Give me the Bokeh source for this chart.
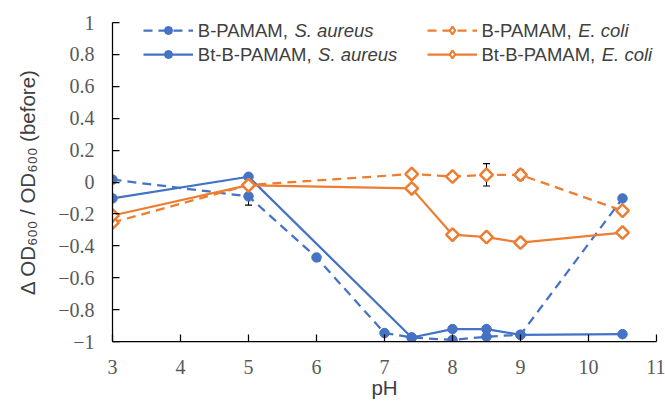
from bokeh.plotting import figure
from bokeh.models import (FixedTicker, CustomJSTickFormatter, Legend, LegendItem,
                          Label, Whisker, TeeHead, ColumnDataSource)
from bokeh.embed import file_html
from bokeh.resources import INLINE

# ---- data ----
x_b_sa = [3, 5, 6, 7, 7.4, 8, 8.5, 9, 10.5]
y_b_sa = [0.015, -0.09, -0.473, -0.947, -0.975, -0.99, -0.97, -0.958, -0.103]

x_bt_sa = [3, 5, 7.4, 8, 8.5, 9, 10.5]
y_bt_sa = [-0.103, 0.033, -0.975, -0.922, -0.922, -0.958, -0.954]

x_b_ec = [3, 5, 7.4, 8, 8.5, 9, 10.5]
y_b_ec = [-0.254, -0.019, 0.05, 0.034, 0.045, 0.045, -0.18]

x_bt_ec = [3, 5, 7.4, 8, 8.5, 9, 10.5]
y_bt_ec = [-0.21, -0.02, -0.04, -0.33, -0.345, -0.38, -0.317]

# error bars (x, centre, half-width)
err_x = [5, 5, 8, 8.5, 9]
err_y = [-0.09, 0.033, 0.034, 0.045, 0.045]
err_d = [0.055, 0.012, 0.012, 0.07, 0.03]

x_ticks = [3, 4, 5, 6, 7, 8, 9, 10, 11]
y_ticks = [-1, -0.8, -0.6, -0.4, -0.2, 0, 0.2, 0.4, 0.6, 0.8, 1]

legend_plain = [["B-PAMAM, ", "Bt-B-PAMAM, "], ["B-PAMAM, ", "Bt-B-PAMAM, "]]
legend_italic = [["S. aureus", "S. aureus"], ["E. coli", "E. coli"]]

BLUE = "#4472C4"
ORANGE = "#ED7D31"
TXT = "#404040"
TICK = "#595959"
SANS = "Liberation Sans"
SERIF = "Liberation Serif"

p = figure(width=665, height=401, x_range=(3, 11), y_range=(-1, 1),
           output_backend="svg", toolbar_location=None,
           min_border_left=112, min_border_right=9, min_border_top=22,
           min_border_bottom=60)
p.outline_line_color = None
p.xgrid.visible = False
p.ygrid.visible = False

for axes in (p.xaxis, p.yaxis):
    axes.axis_line_color = "black"
    axes.axis_line_width = 1.25
    axes.major_tick_line_color = "black"
    axes.major_tick_line_width = 1.25
    axes.major_tick_in = 7
    axes.major_tick_out = 0
    axes.minor_tick_line_color = None
    axes.major_label_text_font = SERIF
    axes.major_label_text_font_size = "20px"
    axes.major_label_text_color = TICK
    axes.major_label_standoff = 18

p.xaxis.ticker = FixedTicker(ticks=x_ticks)
p.yaxis.ticker = FixedTicker(ticks=y_ticks)
p.yaxis.formatter = CustomJSTickFormatter(code="""
const v = Math.round(tick*10)/10;
const s = (v === 0) ? "0" : String(v);
return s.replace("-", "\\u2212");
""")
p.yaxis.axis_label = "\u0394 OD\u2086\u2080\u2080 / OD\u2086\u2080\u2080 (before)"
p.yaxis.axis_label_text_font = SANS
p.yaxis.axis_label_text_font_size = "20.5px"
p.yaxis.axis_label_text_font_style = "normal"
p.yaxis.axis_label_text_color = TXT
p.yaxis.axis_label_standoff = 16

p.xaxis.axis_label = "pH"
p.xaxis.axis_label_text_font = SANS
p.xaxis.axis_label_text_font_size = "20.5px"
p.xaxis.axis_label_text_font_style = "normal"
p.xaxis.axis_label_text_color = TXT
p.xaxis.axis_label_standoff = -1

# error bars (under markers)
esrc = ColumnDataSource(dict(x=err_x, lo=[c - d for c, d in zip(err_y, err_d)],
                             hi=[c + d for c, d in zip(err_y, err_d)]))
wh = Whisker(source=esrc, base="x", lower="lo", upper="hi", dimension="height",
             line_color="black", line_width=1,
             lower_head=TeeHead(size=7, line_color="black", line_width=1.2),
             upper_head=TeeHead(size=7, line_color="black", line_width=1.2),
             level="underlay")
p.add_layout(wh)

DASH = "9 6"
l1 = p.line(x_b_sa, y_b_sa, line_color=BLUE, line_width=2.25, line_dash=DASH)
m1 = p.scatter(x_b_sa, y_b_sa, marker="circle", size=9.5, fill_color=BLUE, line_color=BLUE)
l2 = p.line(x_bt_sa, y_bt_sa, line_color=BLUE, line_width=2.25)
m2 = p.scatter(x_bt_sa, y_bt_sa, marker="circle", size=9.5, fill_color=BLUE, line_color=BLUE)
l3 = p.line(x_b_ec, y_b_ec, line_color=ORANGE, line_width=2.25, line_dash=DASH)
m3 = p.scatter(x_b_ec, y_b_ec, marker="square", angle=0.7853981634, size=9,
               fill_color="white", line_color=ORANGE, line_width=2.5)
l4 = p.line(x_bt_ec, y_bt_ec, line_color=ORANGE, line_width=2.25)
m4 = p.scatter(x_bt_ec, y_bt_ec, marker="square", angle=0.7853981634, size=9,
               fill_color="white", line_color=ORANGE, line_width=2.5)

# legend-only diamond marker (legend samples ignore marker angle)
nan = float("nan")
md = p.scatter([nan], [nan], marker="diamond", size=12, fill_color="white",
               line_color=ORANGE, line_width=2.25)

def make_legend(items, loc):
    lg = Legend(items=items, location=loc, orientation="vertical",
                glyph_width=50, glyph_height=20, label_height=20, label_width=0,
                label_standoff=0, spacing=4, padding=0, margin=0,
                border_line_color=None, background_fill_alpha=0,
                label_text_font_size="1px", label_text_alpha=0)
    p.add_layout(lg)

make_legend([LegendItem(label=" ", renderers=[l1, m1]),
             LegendItem(label=" ", renderers=[l2, m2])], (31.3, 277))
make_legend([LegendItem(label=" ", renderers=[l3, md]),
             LegendItem(label=" ", renderers=[l4, md])], (315, 277))

FS = 18.5
prefix_em = {"B-PAMAM, ": 5.223, "Bt-B-PAMAM, ": 6.501}
col_x = [197.3 - 112, 481 - 112]
row_y = [-8, -32]
for c in range(2):
    for r in range(2):
        plain = legend_plain[c][r]
        p.add_layout(Label(x=3, y=1, x_offset=col_x[c], y_offset=row_y[r], text=plain,
                           text_font=SANS, text_font_size=f"{FS}px", text_color=TXT,
                           text_baseline="middle", text_align="left"))
        p.add_layout(Label(x=3, y=1, x_offset=col_x[c] + prefix_em[plain] * FS,
                           y_offset=row_y[r], text=legend_italic[c][r],
                           text_font=SANS, text_font_size=f"{FS}px",
                           text_font_style="italic", text_color=TXT,
                           text_baseline="middle", text_align="left"))

open("out.html", "w").write(file_html(p, INLINE))
